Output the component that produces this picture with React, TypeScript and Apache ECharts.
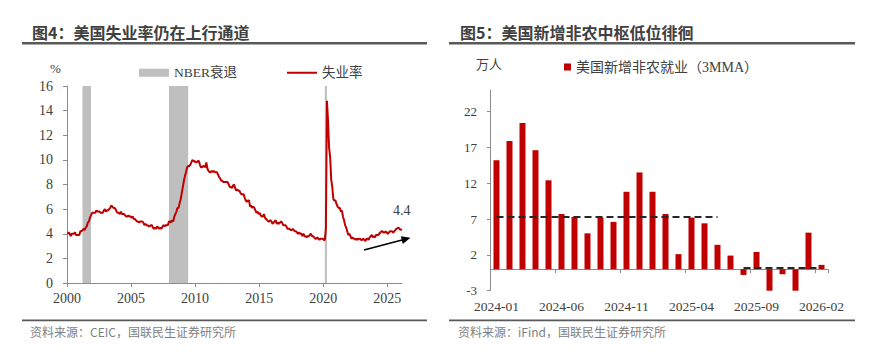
import React, { useEffect, useRef } from 'react';
import * as echarts from 'echarts';

// ---------- Left chart data: US unemployment rate (%), monthly ----------
const unemploymentYears = [
  2000, 2001, 2002, 2003, 2004, 2005, 2006, 2007, 2008, 2009, 2010, 2011, 2012,
  2013, 2014, 2015, 2016, 2017, 2018, 2019, 2020, 2021, 2022, 2023, 2024, 2025, 2026,
];
const unemploymentRate: (number | null)[][] = [
  [4.0, 4.1, 4.0, 3.8, 4.0, 4.0, 4.0, 4.1, 3.9, 3.9, 3.9, 3.9],
  [4.2, 4.2, 4.3, 4.4, 4.3, 4.5, 4.6, 4.9, 5.0, 5.3, 5.5, 5.7],
  [5.7, 5.7, 5.7, 5.9, 5.8, 5.8, 5.8, 5.7, 5.7, 5.7, 5.9, 6.0],
  [5.8, 5.9, 5.9, 6.0, 6.1, 6.3, 6.2, 6.1, 6.1, 6.0, 5.8, 5.7],
  [5.7, 5.6, 5.8, 5.6, 5.6, 5.6, 5.5, 5.4, 5.4, 5.5, 5.4, 5.4],
  [5.3, 5.4, 5.2, 5.2, 5.1, 5.0, 5.0, 4.9, 5.0, 5.0, 5.0, 4.9],
  [4.7, 4.8, 4.7, 4.7, 4.6, 4.6, 4.7, 4.7, 4.5, 4.4, 4.5, 4.4],
  [4.6, 4.5, 4.4, 4.5, 4.4, 4.6, 4.7, 4.6, 4.7, 4.7, 4.7, 5.0],
  [5.0, 4.9, 5.1, 5.0, 5.4, 5.6, 5.8, 6.1, 6.1, 6.5, 6.8, 7.3],
  [7.8, 8.3, 8.7, 9.0, 9.4, 9.5, 9.5, 9.6, 9.8, 10.0, 9.9, 9.9],
  [9.8, 9.8, 9.9, 9.9, 9.6, 9.4, 9.4, 9.5, 9.5, 9.4, 9.8, 9.3],
  [9.1, 9.0, 9.0, 9.1, 9.0, 9.1, 9.0, 9.0, 9.0, 8.8, 8.6, 8.5],
  [8.3, 8.3, 8.2, 8.2, 8.2, 8.2, 8.2, 8.0, 7.8, 7.8, 7.7, 7.9],
  [8.0, 7.7, 7.5, 7.6, 7.5, 7.5, 7.3, 7.2, 7.2, 7.2, 6.9, 6.7],
  [6.6, 6.7, 6.7, 6.2, 6.3, 6.1, 6.2, 6.1, 5.9, 5.7, 5.8, 5.6],
  [5.7, 5.5, 5.4, 5.4, 5.6, 5.3, 5.2, 5.1, 5.0, 5.0, 5.1, 5.0],
  [4.8, 4.9, 5.0, 5.1, 4.8, 4.9, 4.8, 4.9, 5.0, 4.9, 4.7, 4.7],
  [4.7, 4.6, 4.4, 4.4, 4.4, 4.3, 4.3, 4.4, 4.3, 4.2, 4.2, 4.1],
  [4.0, 4.1, 4.0, 4.0, 3.8, 4.0, 3.8, 3.8, 3.7, 3.8, 3.8, 3.9],
  [4.0, 3.8, 3.8, 3.7, 3.6, 3.6, 3.7, 3.6, 3.5, 3.6, 3.6, 3.6],
  [3.5, 3.5, 4.4, 14.8, 13.2, 11.0, 10.2, 8.4, 7.8, 6.8, 6.7, 6.7],
  [6.4, 6.2, 6.1, 6.1, 5.8, 5.9, 5.4, 5.1, 4.7, 4.5, 4.2, 3.9],
  [4.0, 3.8, 3.6, 3.7, 3.6, 3.6, 3.5, 3.6, 3.5, 3.6, 3.6, 3.5],
  [3.5, 3.6, 3.5, 3.4, 3.6, 3.6, 3.5, 3.7, 3.8, 3.9, 3.7, 3.8],
  [3.7, 3.9, 3.9, 3.9, 4.0, 4.1, 4.2, 4.2, 4.1, 4.1, 4.2, 4.1],
  [4.0, 4.1, 4.2, 4.2, 4.2, 4.1, 4.2, 4.3, 4.4, null, 4.5, 4.4],
  [4.3, 4.4],
];
const recessionRanges: [string, string][] = [
  ['2001-03', '2001-11'],
  ['2007-12', '2009-06'],
  ['2020-02', '2020-04'],
];
const leftXTicks = [2000, 2005, 2010, 2015, 2020, 2025];
const latestRateLabel = '4.4';

// ---------- Right chart data: nonfarm payrolls 3MMA (10k persons) ----------
const payrollMonths = [
  '2024-01', '2024-02', '2024-03', '2024-04', '2024-05', '2024-06', '2024-07',
  '2024-08', '2024-09', '2024-10', '2024-11', '2024-12', '2025-01', '2025-02',
  '2025-03', '2025-04', '2025-05', '2025-06', '2025-07', '2025-08', '2025-09',
  '2025-10', '2025-11', '2025-12', '2026-01', '2026-02',
];
const payroll3MMA = [
  15.2, 17.9, 20.4, 16.6, 12.4, 7.7, 7.3, 5.0, 7.2, 6.6, 10.8, 13.5, 10.8,
  7.7, 2.1, 7.2, 6.4, 3.4, 1.9, -0.8, 2.4, -3.1, -0.7, -3.1, 5.1, 0.6,
];
const centralLevels = [
  { from: '2024-01', to: '2025-06', value: 7.25 },
  { from: '2025-08', to: '2026-02', value: 0.25 },
];
const rightYTicks = [-3, 2, 7, 12, 17, 22];

const SERIF = "'Liberation Serif', 'Noto Sans CJK SC', serif";
const SANS = "'Noto Sans CJK SC', 'Noto Sans', sans-serif";
const RED = '#C00000';
const AXIS = '#8C8C8C';
const TXT = '#404040';

const toYear = (ym: string) => {
  const [y, m] = ym.split('-').map(Number);
  return y + (m - 0.5) / 12;
};

export default function App() {
  const ref = useRef<HTMLDivElement>(null);

  useEffect(() => {
    document.body.style.margin = '0';
    if (!ref.current) return;
    const chart = echarts.init(ref.current, undefined, { renderer: 'svg' });

    const lineData: any[] = [];
    unemploymentYears.forEach((y, i) => {
      unemploymentRate[i].forEach((v, m) => {
        lineData.push([y + (m + 0.5) / 12, v]);
      });
    });
    const last = lineData[lineData.length - 1];

    const option: any = {
      animation: false,
      grid: [
        { left: 67, top: 86, width: 335, height: 197 },
        { left: 490, top: 90, width: 338, height: 200.7 },
      ],
      legend: [
        {
          left: 134,
          top: 61,
          itemWidth: 30,
          itemHeight: 8,
          itemGap: 50,
          symbolKeepAspect: true,
          textStyle: { fontFamily: SERIF, fontSize: 13.5, color: TXT },
          data: [
            { name: 'NBER衰退', icon: 'rect' },
            { name: '失业率', icon: 'path://M0,0L30,0L30,2L0,2Z' },
          ],
        },
        {
          left: 559,
          top: 55,
          itemWidth: 7,
          itemHeight: 7,
          textStyle: { fontFamily: SERIF, fontSize: 14, color: TXT },
          data: [{ name: '美国新增非农就业（3MMA）', icon: 'rect' }],
        },
      ],
      xAxis: [
        {
          type: 'value',
          gridIndex: 0,
          min: 2000,
          max: 2026.15,
          interval: 5,
          splitLine: { show: false },
          axisLine: { show: true, lineStyle: { color: AXIS, width: 1 } },
          axisTick: { show: true, length: 4, customValues: leftXTicks, lineStyle: { color: AXIS } },
          axisLabel: {
            customValues: leftXTicks,
            formatter: (v: number) => String(Math.round(v)),
            fontFamily: SERIF,
            fontSize: 14,
            color: TXT,
            margin: 8,
          },
        },
        {
          // labels only, at the bottom of the grid
          type: 'category',
          gridIndex: 1,
          position: 'bottom',
          data: payrollMonths,
          boundaryGap: true,
          axisLine: { show: false, onZero: false },
          axisTick: { show: false },
          axisLabel: {
            interval: 4,
            fontFamily: SERIF,
            fontSize: 13.5,
            color: TXT,
            margin: 9,
          },
        },
        {
          // zero line with ticks
          type: 'category',
          gridIndex: 1,
          position: 'top',
          data: payrollMonths,
          boundaryGap: true,
          axisLine: { show: true, onZero: true, lineStyle: { color: AXIS, width: 1 } },
          axisTick: { show: true, inside: true, interval: 4, length: 4, alignWithLabel: false, lineStyle: { color: AXIS } },
          axisLabel: { show: false },
        },
      ],
      yAxis: [
        {
          type: 'value',
          gridIndex: 0,
          min: 0,
          max: 16,
          interval: 2,
          splitLine: { show: false },
          axisLine: { show: true, lineStyle: { color: AXIS, width: 1 } },
          axisTick: { show: true, length: 4, lineStyle: { color: AXIS } },
          axisLabel: { fontFamily: SERIF, fontSize: 14, color: TXT, margin: 14 },
        },
        {
          type: 'value',
          gridIndex: 1,
          min: -3,
          max: 25,
          splitLine: { show: false },
          axisLine: { show: true, onZero: false, lineStyle: { color: AXIS, width: 1 } },
          axisTick: { show: true, length: 3, customValues: rightYTicks, lineStyle: { color: AXIS } },
          axisLabel: {
            customValues: rightYTicks,
            fontFamily: SERIF,
            fontSize: 13,
            color: TXT,
            margin: 13,
          },
        },
      ],
      series: [
        {
          type: 'custom',
          name: 'NBER衰退',
          xAxisIndex: 0,
          yAxisIndex: 0,
          z: 1,
          itemStyle: { color: '#BFBFBF' },
          data: recessionRanges.map((r) => [toYear(r[0]), toYear(r[1])]),
          encode: { x: [0, 1] },
          renderItem: (params: any, api: any) => {
            const p0 = api.coord([api.value(0), 16]);
            const p1 = api.coord([api.value(1), 0]);
            return {
              type: 'rect',
              shape: { x: p0[0], y: p0[1], width: Math.max(p1[0] - p0[0], 2), height: p1[1] - p0[1] },
              style: { fill: '#BFBFBF' },
            };
          },
        },
        {
          type: 'line',
          name: '失业率',
          xAxisIndex: 0,
          yAxisIndex: 0,
          z: 3,
          data: lineData,
          connectNulls: true,
          showSymbol: false,
          symbol: 'none',
          lineStyle: { color: RED, width: 2 },
          itemStyle: { color: RED },
          markPoint: {
            silent: true,
            symbol: 'circle',
            symbolSize: 2,
            itemStyle: { color: 'rgba(0,0,0,0)' },
            data: [{ coord: last, value: latestRateLabel }],
            label: {
              show: true,
              position: 'top',
              distance: 10,
              formatter: latestRateLabel,
              fontFamily: SERIF,
              fontSize: 14,
              color: TXT,
            },
          },
        },
        {
          type: 'bar',
          name: '美国新增非农就业（3MMA）',
          xAxisIndex: 1,
          yAxisIndex: 1,
          data: payroll3MMA,
          barWidth: 6,
          itemStyle: { color: RED },
          markLine: {
            silent: true,
            symbol: 'none',
            label: { show: false },
            lineStyle: { color: '#262626', width: 2, type: [7, 4] },
            data: centralLevels.map((c) => [
              { coord: [c.from, c.value] },
              { coord: [c.to, c.value] },
            ]),
          },
        },
      ],
      graphic: [
        // titles
        { type: 'text', left: 32, top: 24, style: { text: '图4：美国失业率仍在上行通道', font: `bold 16px ${SANS}`, fill: '#404040' } },
        { type: 'text', left: 460, top: 24, style: { text: '图5：美国新增非农中枢低位徘徊', font: `bold 16px ${SANS}`, fill: '#404040' } },
        { type: 'rect', shape: { x: 22, y: 42, width: 405, height: 2.5 }, style: { fill: '#595959' } },
        { type: 'rect', shape: { x: 449, y: 42, width: 406, height: 2.5 }, style: { fill: '#595959' } },
        { type: 'rect', shape: { x: 22, y: 319.5, width: 405, height: 1.8 }, style: { fill: '#595959' } },
        { type: 'rect', shape: { x: 449, y: 319.5, width: 406, height: 1.8 }, style: { fill: '#595959' } },
        // sources
        { type: 'text', left: 30, top: 325, style: { text: '资料来源：CEIC，国联民生证券研究所', font: `12px ${SANS}`, fill: '#7F7F7F' } },
        { type: 'text', left: 458, top: 325, style: { text: '资料来源：iFind，国联民生证券研究所', font: `12px ${SANS}`, fill: '#7F7F7F' } },
        // axis units
        { type: 'text', left: 50, top: 62, style: { text: '%', font: `13px ${SERIF}`, fill: TXT } },
        { type: 'text', left: 476, top: 58, style: { text: '万人', font: `13px ${SERIF}`, fill: TXT } },
        // trend arrow
        { type: 'line', shape: { x1: 364, y1: 250, x2: 403, y2: 239.8 }, style: { stroke: '#000', lineWidth: 1.6 } },
        { type: 'polygon', shape: { points: [[410.5, 237.8], [402.8, 244.0], [400.8, 236.2]] }, style: { fill: '#000' } },
      ],
    };

    chart.setOption(option);
    return () => chart.dispose();
  }, []);

  return <div ref={ref} style={{ width: 880, height: 364 }} />;
}
